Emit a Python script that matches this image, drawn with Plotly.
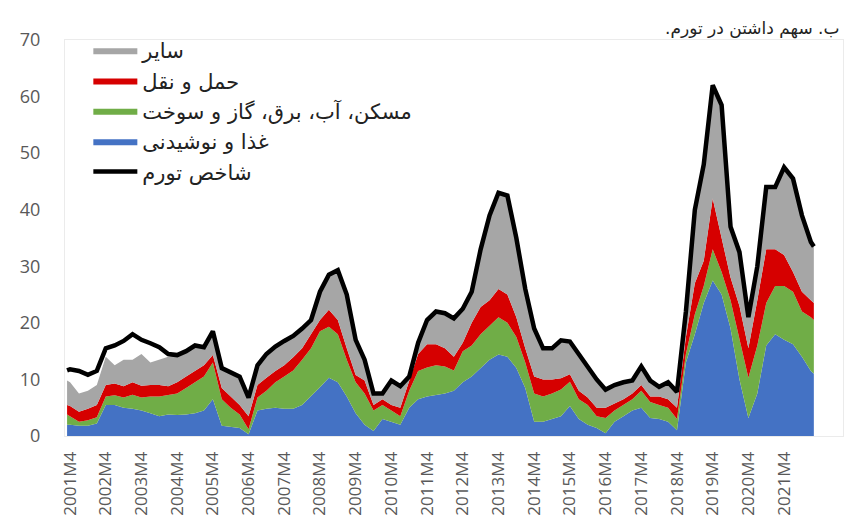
import plotly.graph_objects as go

# sample periods (quarterly, plus first/last month)
periods = ["2001M3"] + [f"{2001 + (3 + 3 * k) // 12}M{(3 + 3 * k) % 12 + 1}" for k in range(84)] + ["2022M2"]

food = [2.0, 2.0, 1.8, 1.8, 2.2, 5.5, 5.5, 5.0, 4.8, 4.5,
        4.0, 3.5, 3.8, 3.7, 3.8, 4.0, 4.5, 6.5, 1.8, 1.6,
        1.4, 0.3, 4.5, 4.8, 5.0, 4.8, 4.8, 5.5, 7.0, 8.6,
        10.3, 9.5, 7.0, 4.0, 2.0, 0.9, 3.0, 2.5, 2.0, 5.0,
        6.5, 7.0, 7.2, 7.5, 8.0, 9.5, 10.5, 12.0, 13.5, 14.4,
        14.0, 12.0, 8.5, 2.5, 2.5, 3.0, 3.5, 5.3, 3.0, 2.0,
        1.4, 0.5, 2.5, 3.5, 4.5, 5.0, 3.2, 3.0, 2.5, 1.0,
        13.0, 18.0, 23.5, 27.5, 25.0, 19.0, 10.0, 3.2, 7.5, 16.0,
        18.0, 17.0, 16.2, 14.0, 11.5, 11.0]

housing = [1.8, 1.5, 0.7, 1.0, 1.1, 1.5, 1.7, 1.8, 2.5, 2.3,
           3.0, 3.5, 3.4, 3.8, 4.7, 5.5, 6.0, 6.5, 4.7, 3.4,
           2.4, 0.9, 2.3, 3.2, 4.5, 5.7, 6.8, 8.0, 8.5, 9.9,
           9.0, 8.5, 6.5, 5.5, 5.5, 3.6, 2.5, 2.0, 1.5, 3.0,
           5.0, 5.1, 5.3, 4.8, 3.6, 5.5, 5.5, 6.0, 6.0, 6.6,
           6.0, 5.5, 4.5, 5.0, 4.5, 4.5, 4.7, 4.3, 3.5, 3.5,
           2.1, 2.7, 2.0, 2.0, 2.0, 3.0, 2.8, 2.5, 2.5, 2.0,
           1.5, 3.5, 3.0, 5.5, 4.0, 5.0, 7.0, 7.1, 8.5, 7.5,
           8.5, 9.5, 9.3, 8.0, 9.5, 9.5]

transport = [1.7, 1.8, 1.8, 2.0, 2.2, 2.0, 2.1, 2.0, 2.2, 2.1,
             2.0, 2.0, 1.6, 2.0, 2.0, 2.0, 2.0, 1.3, 2.0, 2.0,
             1.7, 2.3, 2.2, 2.3, 2.0, 2.0, 2.3, 2.0, 2.5, 2.0,
             3.0, 2.5, 2.0, 1.3, 2.3, 1.0, 1.0, 1.0, 1.5, 1.8,
             3.0, 4.1, 3.7, 3.2, 2.4, 1.5, 4.0, 4.8, 4.5, 5.0,
             5.0, 3.5, 2.5, 3.0, 3.0, 2.5, 2.0, 1.3, 1.5, 1.3,
             1.5, 1.8, 1.3, 1.0, 1.0, 1.0, 1.0, 1.5, 1.5, 2.0,
             3.0, 5.5, 4.5, 9.0, 6.0, 4.0, 6.0, 5.2, 8.0, 9.5,
             6.5, 5.5, 3.5, 3.5, 3.0, 3.0]

other = [4.3, 4.2, 3.2, 3.2, 3.5, 5.0, 3.2, 4.7, 4.0, 5.6,
         4.0, 4.5, 5.2, 4.8, 4.5, 4.5, 3.2, 4.2, 3.5, 4.3,
         5.0, 3.3, 3.5, 4.2, 4.3, 4.3, 3.8, 3.5, 2.5, 5.0,
         6.2, 8.8, 9.5, 6.2, 3.7, 2.0, 1.0, 4.3, 3.8, 0.7,
         2.0, 4.3, 5.8, 6.2, 6.8, 6.0, 5.5, 10.2, 15.0, 17.0,
         17.5, 14.0, 10.5, 8.5, 5.5, 5.5, 6.7, 5.8, 6.5, 5.2,
         5.0, 3.2, 3.2, 3.0, 2.3, 3.3, 2.8, 1.7, 3.0, 2.8,
         4.5, 13.0, 17.0, 20.0, 23.5, 9.0, 9.5, 5.5, 6.0, 11.0,
         11.0, 15.5, 16.5, 13.5, 10.3, 10.0]

inflation = [11.6, 11.8, 11.5, 10.8, 11.5, 15.5, 16.0, 16.8, 18.0, 17.0,
             16.4, 15.7, 14.5, 14.3, 15.0, 16.0, 15.7, 18.5, 12.0, 11.3,
             10.5, 6.8, 12.5, 14.5, 15.8, 16.8, 17.7, 19.0, 20.5, 25.5,
             28.5, 29.3, 25.0, 17.0, 13.5, 7.5, 7.5, 9.8, 8.8, 10.5,
             16.5, 20.5, 22.0, 21.7, 20.8, 22.5, 25.5, 33.0, 39.0, 43.0,
             42.5, 35.0, 26.0, 19.0, 15.5, 15.5, 16.9, 16.7, 14.5, 12.0,
             10.0, 8.2, 9.0, 9.5, 9.8, 12.3, 9.8, 8.7, 9.5, 7.8,
             22.0, 40.0, 48.0, 62.0, 58.5, 37.0, 32.5, 21.0, 30.0, 44.0,
             44.0, 47.5, 45.5, 39.0, 34.3, 33.5]

tick_labels = [f"{y}M4" for y in range(2001, 2022)]

series_names = {
    "food": "غذا و نوشیدنی",
    "housing": "مسکن، آب، برق، گاز و سوخت",
    "transport": "حمل و نقل",
    "other": "سایر",
    "inflation": "شاخص تورم",
}
title_text = "\u200fب. سهم داشتن در تورم.\u200f"


def month_index(p):
    y, m = p.split("M")
    return (int(y) - 2001) * 12 + int(m) - 4


x = [month_index(p) for p in periods]
tickvals = [month_index(t) for t in tick_labels]

fa_font = "DejaVu Sans"
fig = go.Figure()
stack = [
    (food, series_names["food"], "#4472C4", 4),
    (housing, series_names["housing"], "#70AD47", 3),
    (transport, series_names["transport"], "#D60000", 2),
    (other, series_names["other"], "#A6A6A6", 1),
]
for vals, name, col, rank in stack:
    fig.add_trace(go.Scatter(
        x=x, y=vals, name=name, mode="lines", stackgroup="one",
        line=dict(width=0, color=col), fillcolor=col, legendrank=rank,
    ))
fig.add_trace(go.Scatter(
    x=x, y=inflation, name=series_names["inflation"], mode="lines",
    line=dict(color="black", width=4.5), legendrank=5,
))

fig.update_layout(
    width=853, height=523,
    margin=dict(l=55, r=18, t=32, b=95),
    paper_bgcolor="white", plot_bgcolor="white",
    showlegend=True,
    legend=dict(
        x=0.03, y=1.025, xanchor="left", yanchor="top", traceorder="normal",
        font=dict(family=fa_font, size=21, color="#222222"),
        bgcolor="rgba(0,0,0,0)", itemwidth=44, tracegroupgap=0,
    ),
    annotations=[dict(
        text=title_text, xref="paper", yref="paper",
        x=0.997, y=1.03, xanchor="right", yanchor="middle",
        showarrow=False, font=dict(family=fa_font, size=17, color="#222222"),
    )],
)
fig.update_xaxes(
    range=[-1.7, 259.8], tickmode="array", tickvals=tickvals, ticktext=tick_labels,
    tickangle=-90, tickfont=dict(family="Open Sans", size=17, color="#595959"),
    showgrid=False, zeroline=False, showline=True, linecolor="#EBEBEB", mirror=True,
    ticks="", ticklabelstandoff=8,
)
fig.update_yaxes(
    range=[0, 70], dtick=10, tickfont=dict(family="Open Sans", size=18, color="#595959"),
    showgrid=False, zeroline=False, showline=True, linecolor="#EBEBEB", mirror=True,
    ticks="", ticklabelstandoff=20,
)

fig.write_html("out.html")
